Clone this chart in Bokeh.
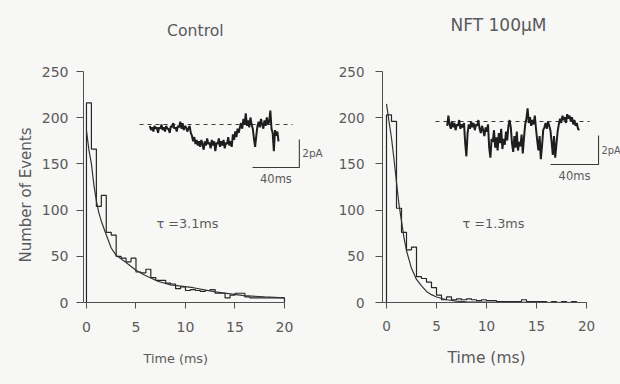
from bokeh.plotting import figure
from bokeh.models import Range1d, FixedTicker, Title
from bokeh.layouts import row
from bokeh.embed import file_html
from bokeh.resources import INLINE
from bokeh.core.properties import value

# ---------------- data ----------------
bin_width = 0.5  # ms
control_counts = [216, 166, 104, 116, 76, 73, 50, 48, 44, 48,
                  33, 32, 36, 27, 24, 24, 21, 20, 15, 17,
                  13, 14, 13, 12, 13, 14, 10, 10, 5, 8,
                  10, 10, 6, 5, 5, 5, 5, 5, 5, 5]
nft_counts = [203, 196, 102, 76, 57, 60, 28, 26, 22, 16,
              8, 3, 6, 3, 4, 3, 4, 3, 2, 3,
              2, 2, 1, 1, 1, 1, 1, 3, 1, 1,
              1, 1, 0, 1, 0, 1, 0, 1, 0, 0]

control_fit_t = [0, 0.25, 0.5, 0.75, 1.0, 1.25, 1.5, 1.9, 2.5, 3.0, 3.9, 5.0,
                 5.9, 7.2, 8.5, 10.8, 13.0, 15.9, 18.0, 20.0]
control_fit_n = [186, 165, 150, 127, 110, 97, 88, 76, 59, 51, 44, 35,
                 29.5, 23, 19, 16, 11.5, 7.5, 6, 5]
nft_fit_t = [0, 0.25, 0.5, 0.75, 1.0, 1.25, 1.5, 1.75, 2.0, 2.5, 3.0, 3.5,
             4.0, 4.5, 5.0, 6.0, 7.0, 8.0, 10.0, 14.0, 20.0]
nft_fit_n = [215, 196, 178, 155, 130, 106, 88, 70, 56, 37, 25, 18,
             12, 8.5, 6, 3, 1.5, 0.8, 0.3, 0.1, 0]

trace_t = list(range(111))  # ms, single-channel recordings
control_trace = [-0.1, -0.4, -0.2, -0.5, -0.1, -0.3, -0.2, -0.6, -0.2, -0.3,
                 0.0, -0.4, -0.2, -0.5, -0.1, -0.3, -0.3, -0.6, -0.1, -0.2,
                 0.1, -0.3, -0.2, -0.5, -0.1, -0.2, 0.2, -0.3, 0.1, -0.4,
                 -0.1, -0.2, -0.5, -0.3, -0.1, -0.6,
                 -0.8, -1.2, -0.9, -1.4, -1.1,
                 -1.5, -1.2, -1.6, -1.1, -1.4, -1.8, -1.2, -1.5, -1.0, -1.4,
                 -1.3, -1.7, -1.1, -1.5, -1.2, -1.9, -1.3, -1.4, -1.0, -1.6,
                 -1.2, -1.5, -1.1, -1.7, -1.3, -1.4, -0.9, -1.5, -1.2, -1.6,
                 -0.7, -1.1, -0.5, -0.9, -0.3, -0.6,
                 -0.2, 0.1, -0.3, 0.4, 0.0, 0.8, -0.1, 0.3, -0.2, 0.5, 0.0, -0.3,
                 -1.0, -1.6, -0.8,
                 -0.1, 0.2, -0.2, 0.4, 0.0, -0.3, 0.3, -0.1, 0.5, 0.0, 0.2, 1.0,
                 -0.3, -0.6, -1.9, -0.4, -0.8, -0.5, -1.2]
nft_trace = [-0.3, 0.4, -0.2, -0.5, 0.0, -0.4, -0.1, -0.6, -0.2, -0.3, 0.1, -0.5, -0.2, -0.4, -0.1,
             -1.5, -2.4, -0.8,
             -0.2, -0.5, 0.0, -0.4, -0.1, -0.6, -0.2, -0.3, 0.1, -0.5, -0.8, -0.3, -0.6, -1.0, -0.4, -0.7, -0.2,
             -1.8, -2.5, -1.2,
             -1.4, -0.6, -1.8, -1.1, -2.0, -0.8, -1.5, -0.5, -1.9, -1.2, -1.6, -0.7, -1.3,
             -0.3, 0.1, -0.4,
             -1.5, -2.1, -1.0, -1.8, -0.7, -2.0, -1.4, -1.7, -0.9, -2.2, -1.1,
             -0.2, 0.2, 0.9, -0.1, 0.3, -0.3, 0.1, -0.2, 0.4, -0.5,
             -1.3, -2.0, -1.0, -2.6, -1.7, -0.6,
             -0.4, -0.1, -0.5, 0.0, -0.3, -0.6,
             -1.4, -2.3, -1.0, -2.5, -1.6, -0.7,
             -0.2, 0.2, -0.1, 0.4, 0.1, 0.3, -0.1, 0.5, 0.2, 0.4, 0.0, 0.3, -0.2, 0.1, -0.3, -0.1, -0.5, -0.6]

x_ticks = [0, 5, 10, 15, 20]
y_ticks = [0, 50, 100, 150, 200, 250]
scale_ms = 40
scale_pA = 2

FONT = "DejaVu Sans"
TEXT = "#5a5a5a"
AXIS = "#505050"
INK = "#262626"
BG = "#f7f7f5"

FRAME_BOTTOM = 302          # px from top of the page
PX_PER_EVENT = 231 / 250    # vertical scale of the histograms
Y_TOP = FRAME_BOTTOM / PX_PER_EVENT   # frame reaches the top edge of the page


def outline(counts):
    xs, ys = [0.0], [0.0]
    for i, c in enumerate(counts):
        left = i * bin_width
        xs += [left, left + bin_width]
        ys += [c, c]
    xs.append(len(counts) * bin_width)
    ys.append(0)
    return xs, ys


def panel(width, border_left, x_start, x_end,
          counts, fit_t, fit_n, trace, trace_xr, trace_yr, sb_x0, sb_y0,
          dash_x0, dash_x1, pa_size, title, title_xy, title_size,
          tau, tau_xy, ylabel, xlabel_size, xlabel_offset, xlabel_standoff,
          tick_size, ytick_standoff, xtick_standoff):
    p = figure(width=width, height=384, output_backend="svg", toolbar_location=None,
               x_range=Range1d(x_start, x_end), y_range=Range1d(0, Y_TOP),
               min_border_left=border_left, min_border_right=0,
               min_border_top=0, min_border_bottom=384 - FRAME_BOTTOM)
    p.background_fill_color = BG
    p.border_fill_color = BG
    p.outline_line_color = None
    p.grid.visible = False

    p.extra_x_ranges = {"tx": Range1d(*trace_xr)}
    p.extra_y_ranges = {"ty": Range1d(*trace_yr)}

    # axes
    p.xaxis.ticker = FixedTicker(ticks=x_ticks)
    p.yaxis.ticker = FixedTicker(ticks=y_ticks)
    p.xaxis.bounds = (x_start, 20)
    p.yaxis.bounds = (0, 250)
    for ax in (p.xaxis, p.yaxis):
        ax.axis_line_color = AXIS
        ax.major_tick_line_color = AXIS
        ax.minor_tick_line_color = None
        ax.major_tick_in = 0
        ax.major_label_text_font = FONT
        ax.major_label_text_color = TEXT
        ax.major_label_text_font_size = f"{tick_size}px"
    p.xaxis.major_tick_out = 6
    p.yaxis.major_tick_out = 7
    p.xaxis.major_label_standoff = xtick_standoff
    p.yaxis.major_label_standoff = ytick_standoff

    if ylabel:
        p.add_layout(Title(text=ylabel, align="left", offset=40, standoff=8,
                           text_font=FONT, text_font_size="15px", text_color=TEXT,
                           text_font_style="normal"), "left")
    p.add_layout(Title(text="Time (ms)", align="left", offset=xlabel_offset,
                       standoff=xlabel_standoff, text_font=FONT,
                       text_font_size=f"{xlabel_size}px", text_color=TEXT,
                       text_font_style="normal"), "below")

    # panel title
    p.text([title_xy[0]], [title_xy[1]], text=[title], text_font=value(FONT),
           text_font_size=f"{title_size}px", text_color=TEXT, text_align="center",
           text_baseline="middle")

    # histogram + fit
    hx, hy = outline(counts)
    p.line(hx, hy, line_color=INK, line_width=1.2)
    p.line(fit_t, fit_n, line_color="#333333", line_width=1.2)

    # inset recording
    kw = dict(x_range_name="tx", y_range_name="ty")
    p.line([dash_x0, dash_x1], [0, 0], line_color="#3a3a3a", line_width=1.1,
           line_dash="4 4", **kw)
    p.line(trace_t, trace, line_color="#1e1e1e", line_width=2.0, **kw)
    p.line([sb_x0, sb_x0 + scale_ms, sb_x0 + scale_ms],
           [sb_y0, sb_y0, sb_y0 + scale_pA], line_color="#3a3a3a", line_width=1.1, **kw)
    p.text([sb_x0 + scale_ms + 2.5], [sb_y0 + scale_pA / 2], text=[f"{scale_pA}pA"],
           text_font=value(FONT), text_font_size=f"{pa_size}px", text_color=TEXT,
           text_align="left", text_baseline="middle", **kw)
    p.text([sb_x0 + scale_ms / 2], [sb_y0 - 0.8], text=[f"{scale_ms}ms"],
           text_font=value(FONT), text_font_size="11.5px", text_color=TEXT,
           text_align="center", text_baseline="middle", **kw)

    p.text([tau_xy[0]], [tau_xy[1]], text=[tau], text_font=value(FONT),
           text_font_size="12.8px", text_color=TEXT, text_align="center",
           text_baseline="middle")
    return p


left = panel(324, 83, -0.3, -0.3 + 241 / 9.9,
             control_counts, control_fit_t, control_fit_n, control_trace,
             (-56.7, 149.3), (-12.714, 8.857), 87.8, -3.07, -8.8, 122, 10.5,
             "Control", (11.0, 294.4), 15.7, "\u03c4 =3.1ms", (10.2, 85.5),
             "Number of Events", 12.8, 60, 29, 14, 8, 13)
right = panel(296, 58, -0.4, 23.4,
              nft_counts, nft_fit_t, nft_fit_n, nft_trace,
              (-53.9, 144.4), (-12.483, 8.345), 86.1, -2.97, -9.75, 118.6, 9.8,
              "NFT 100\u00b5M", (11.2, 299.8), 17, "\u03c4 =1.3ms", (10.7, 85.5),
              None, 15.5, 65, 27, 13.5, 11, 12)

layout = row(left, right, spacing=0, styles={"background-color": BG})
open("out.html", "w").write(file_html(layout, INLINE))
